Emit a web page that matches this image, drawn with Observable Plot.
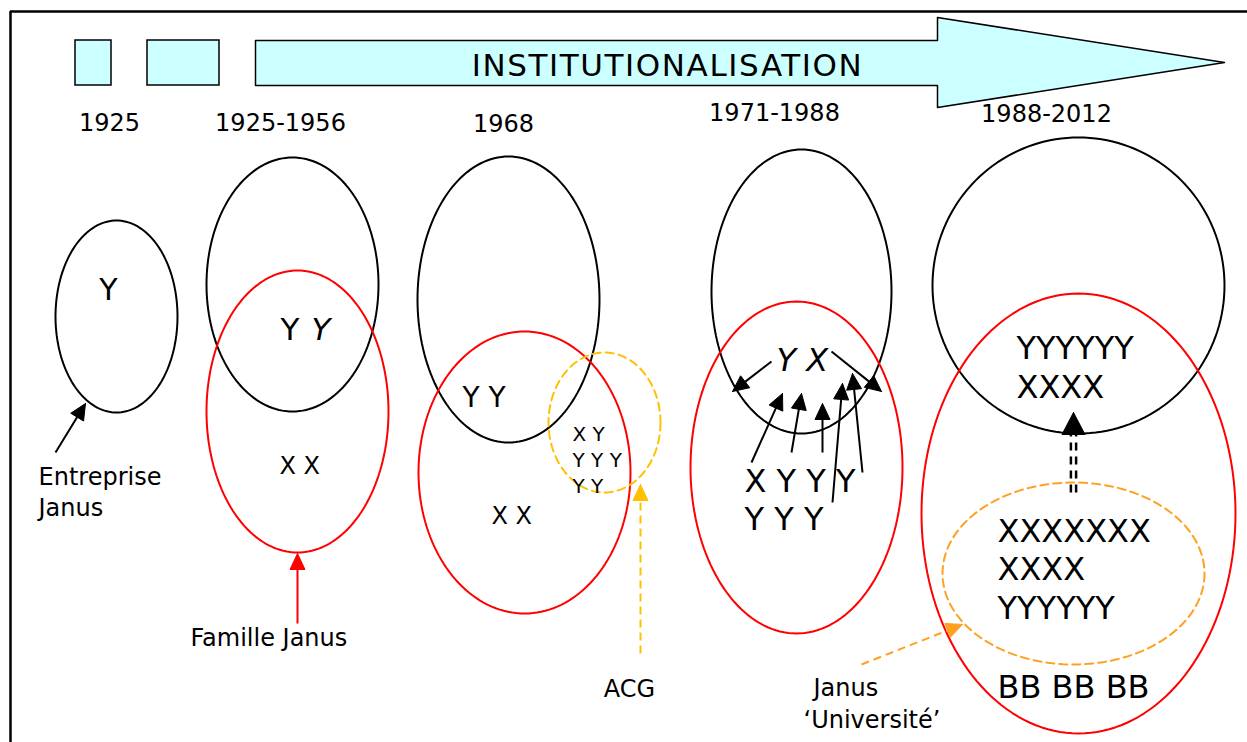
<!DOCTYPE html>
<html><head><meta charset="utf-8">
<script src="https://cdn.jsdelivr.net/npm/d3@7"></script>
<script src="https://cdn.jsdelivr.net/npm/@observablehq/plot@0.6"></script>
<style>body{margin:0;background:#fff}#chart svg{display:block}</style>
</head><body><div id="chart"></div>
<script>
// ---- Periods (timeline boxes) ----
const periodLabels = ["1925", "1925-1956", "1968", "1971-1988", "1988-2012"];
const periodLabelX = [109, 280, 503, 774, 1046];
const periodLabelY = [130, 130, 131, 120, 121];
const boxX1 = [75, 147];
const boxX2 = [111, 219];
const bandX = [255, 937, 937, 1224, 937, 937, 255, 255];
const bandY = [40, 40, 17, 62, 107, 85, 85, 40];
const bandLabel = "INSTITUTIONALISATION";

// ---- Ellipses (groups) ----
const ellipseKind = ["entreprise","entreprise","famille","entreprise","famille","acg","entreprise","famille","entreprise","famille","universite"];
const ellipseCx = [116, 292, 297, 508, 524, 604, 801, 796, 1078, 1078, 1073];
const ellipseCy = [316, 284, 411, 299, 472, 422, 291, 467, 285, 513, 573];
const ellipseRx = [61, 86, 91, 91, 106, 56, 90, 106, 146, 157, 131];
const ellipseRy = [96, 127, 141, 143, 141, 70, 142, 166, 148, 220, 91];

// ---- Arrows ----
const arrowKind = ["entreprise","famille","acg","universite","entreprise","entreprise","entreprise","entreprise","entreprise","entreprise","entreprise","double"];
const arrowX1 = [55, 297, 640, 861, 771, 831, 751, 791, 822, 832, 862, 1073];
const arrowY1 = [452, 623, 653, 664, 361, 351, 462, 452, 452, 502, 472, 492];
const arrowX2 = [85, 297, 640, 962, 732, 881, 782, 801, 822, 842, 852, 1073];
const arrowY2 = [403, 553, 484, 624, 391, 391, 393, 393, 403, 383, 373, 412];

// ---- Texts ----
const textLabel = ["Y","Y","Y","Y Y","X X","X X","X Y","Y Y Y","Y Y","Y X","X Y Y Y","Y Y Y","YYYYYY","XXXX","XXXXXXX","XXXX","YYYYYY","BB BB BB","Entreprise","Janus","Famille Janus","Janus","‘Université’","ACG"];
const textX =     [108, 280, 311, 462, 279, 491, 572, 572, 572, 776, 744, 744, 1016, 1016, 997, 997, 997, 997, 38, 38, 190, 813, 803, 629];
const textY =     [299, 339, 339, 406, 473, 523, 440, 466, 492, 370, 491, 529, 358, 397, 541, 579, 618, 697, 484, 515, 645, 695, 727, 696];
const textSize =  [30, 31, 31, 28, 24, 24, 20, 20, 20, 32, 32, 32, 32, 32, 32, 32, 32, 32, 24, 24, 24, 24, 24, 24];
const textItalic = [0,0,1,0,0,0,0,0,0,1,0,0,0,0,0,0,0,0,0,0,0,0,0,0];
const textCenter = [1,0,0,0,0,0,0,0,0,0,0,0,0,0,0,0,0,0,0,0,0,0,0,1];

const kindColor = {entreprise: "#000000", famille: "#ff0000", acg: "#ffc000", universite: "#ffa020", double: "#000000"};
const dashed = new Set(["acg", "universite"]);

// build ellipse outlines
const ellipsePts = [];
ellipseKind.forEach((k, i) => {
  const n = 160;
  for (let j = 0; j <= n; j++) {
    const t = 2 * Math.PI * j / n;
    ellipsePts.push({id: i, kind: k, x: ellipseCx[i] + ellipseRx[i] * Math.cos(t), y: ellipseCy[i] + ellipseRy[i] * Math.sin(t)});
  }
});

// arrows: shafts end at head base, heads as triangles
const shafts = [], heads = [];
arrowKind.forEach((k, i) => {
  const x1 = arrowX1[i], y1 = arrowY1[i], x2 = arrowX2[i], y2 = arrowY2[i];
  const L = k === "double" ? 22 : 16, W = k === "double" ? 11.5 : 7.5;
  const d = Math.hypot(x2 - x1, y2 - y1), ux = (x2 - x1) / d, uy = (y2 - y1) / d;
  const bx = x2 - L * ux, by = y2 - L * uy;
  shafts.push({kind: k, x1, y1, x2: bx + ux, y2: by + uy});
  const pts = [[x2, y2], [bx - W * uy, by + W * ux], [bx + W * uy, by - W * ux], [x2, y2]];
  pts.forEach(([x, y]) => heads.push({id: i, kind: k, color: kindColor[k], x, y}));
});

const band = bandX.map((x, i) => ({x, y: bandY[i]}));
const boxes = boxX1.map((x1, i) => ({x1, x2: boxX2[i], y1: 40, y2: 85}));
const periods = periodLabels.map((t, i) => ({t, x: periodLabelX[i], bl: periodLabelY[i], fs: 24}));
const texts = textLabel.map((t, i) => ({t, x: textX[i], bl: textY[i], fs: textSize[i], it: textItalic[i], c: textCenter[i]}));
const ty = d => d.bl - 0.32 * d.fs;

const solidShafts = shafts.filter(d => !dashed.has(d.kind) && d.kind !== "double");
const dashShafts = shafts.filter(d => dashed.has(d.kind));
const dbl = shafts.filter(d => d.kind === "double");

const chart = Plot.plot({
  width: 1247, height: 742, margin: 0,
  x: {domain: [0, 1247], range: [0, 1247], axis: null},
  y: {domain: [0, 742], range: [0, 742], axis: null},
  color: {type: "identity"},
  style: {fontFamily: "'DejaVu Sans', Verdana, sans-serif", background: "#fff", color: "#000"},
  marks: [
    Plot.ruleY([11], {x1: 10, x2: 1247, stroke: "#000", strokeWidth: 2.5}),
    Plot.ruleX([10], {y1: 11, y2: 742, stroke: "#000", strokeWidth: 2.5}),
    Plot.rect(boxes, {x1: "x1", x2: "x2", y1: "y1", y2: "y2", fill: "#ccffff", stroke: "#000", strokeWidth: 1.5}),
    Plot.line(band, {x: "x", y: "y", fill: "#ccffff", stroke: "#000", strokeWidth: 1.5, curve: "linear"}),
    Plot.text([bandLabel], {x: 667, y: 75 - 0.32 * 31, text: d => d, fontSize: 31, fill: "#000"}),
    Plot.text(periods, {x: "x", y: ty, text: "t", fontSize: 24, fill: "#000"}),
    Plot.line(ellipsePts.filter(d => !dashed.has(d.kind)), {x: "x", y: "y", z: "id", stroke: d => kindColor[d.kind], strokeWidth: 2, curve: "linear"}),
    Plot.line(ellipsePts.filter(d => dashed.has(d.kind)), {x: "x", y: "y", z: "id", stroke: d => kindColor[d.kind], strokeWidth: 2, strokeDasharray: "8,5", curve: "linear"}),
    Plot.link(solidShafts, {x1: "x1", y1: "y1", x2: "x2", y2: "y2", stroke: d => kindColor[d.kind], strokeWidth: 2}),
    Plot.link(dashShafts, {x1: "x1", y1: "y1", x2: "x2", y2: "y2", stroke: d => kindColor[d.kind], strokeWidth: 2, strokeDasharray: "8,5"}),
    Plot.link(dbl, {x1: "x1", y1: "y1", x2: "x2", y2: "y2", dx: -2.6, stroke: "#000", strokeWidth: 2.5, strokeDasharray: "8,6"}),
    Plot.link(dbl, {x1: "x1", y1: "y1", x2: "x2", y2: "y2", dx: 2.6, stroke: "#000", strokeWidth: 2.5, strokeDasharray: "8,6"}),
    Plot.line(heads, {x: "x", y: "y", z: "id", fill: "color", stroke: "color", strokeWidth: 1, curve: "linear"}),
    Plot.text(texts.filter(d => d.c), {x: "x", y: ty, text: "t", fontSize: "fs", fill: "#000"}),
    Plot.text(texts.filter(d => !d.c && !d.it), {x: "x", y: ty, text: "t", fontSize: "fs", textAnchor: "start", fill: "#000"}),
    Plot.text(texts.filter(d => !d.c && d.it), {x: "x", y: ty, text: "t", fontSize: "fs", textAnchor: "start", fontStyle: "italic", fill: "#000"})
  ]
});
document.getElementById("chart").appendChild(chart);
d3.select(chart).selectAll("text").filter(function() { return this.textContent === bandLabel; }).style("letter-spacing", "1.6px");
</script></body></html>
